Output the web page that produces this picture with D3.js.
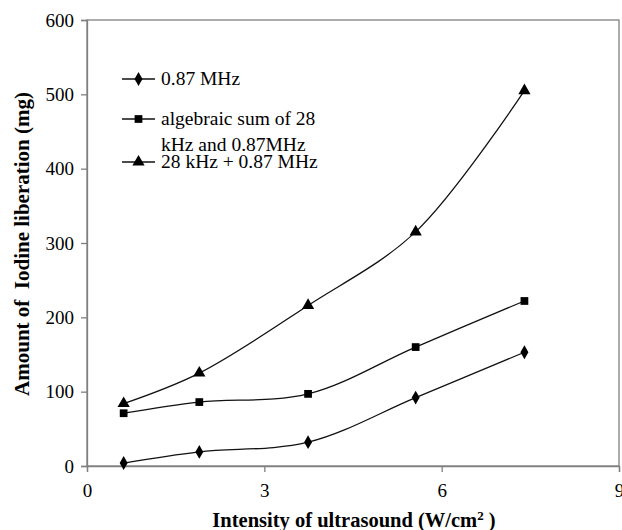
<!DOCTYPE html>
<html>
<head>
<meta charset="utf-8">
<script src="https://cdn.jsdelivr.net/npm/d3@7"></script>
<style>
body { margin: 0; background: #fff; }
</style>
</head>
<body>
<script>
var intensity = [0.62, 1.9, 3.74, 5.56, 7.4];
var mhz = [4, 19, 32, 92, 153];
var algebraicSum = [71, 86, 97, 160, 222];
var combined = [84, 125, 216, 315, 505];
var seriesNames = ["0.87 MHz", "algebraic sum of 28|kHz and 0.87MHz", "28 kHz + 0.87 MHz"];
var symbols = [d3.symbolDiamond, d3.symbolSquare, d3.symbolTriangle];
var xTicks = [0, 3, 6, 9];
var yTicks = [0, 100, 200, 300, 400, 500, 600];

var w = 622, h = 530;
var mLeft = 87, mRight = 619, mTop = 20, mBottom = 466;
var axisColor = "#808080";
var serif = "'Liberation Serif', 'Times New Roman', serif";

var svg = d3.select("body").append("svg")
	.attr("width", w)
	.attr("height", h);

var xScale = d3.scaleLinear().domain([0, 9]).range([mLeft, mRight]);
var yScale = d3.scaleLinear().domain([0, 600]).range([mBottom, mTop]);

// frame
svg.append("rect")
	.attr("x", mLeft).attr("y", mTop)
	.attr("width", mRight - mLeft).attr("height", mBottom - mTop)
	.attr("fill", "none")
	.attr("stroke", axisColor)
	.attr("stroke-width", 1.3);

var xAxis = svg.append("g")
	.attr("transform", "translate(0," + mBottom + ")")
	.call(d3.axisBottom(xScale).tickValues(xTicks).tickSize(6).tickPadding(12));

var yAxis = svg.append("g")
	.attr("transform", "translate(" + mLeft + ",0)")
	.call(d3.axisLeft(yScale).tickValues(yTicks).tickSize(6).tickPadding(7));

svg.selectAll(".domain").attr("stroke", axisColor).attr("stroke-width", 1.3);
svg.selectAll(".tick line").attr("stroke", axisColor).attr("stroke-width", 1.3);
svg.selectAll(".tick text")
	.style("font-family", serif)
	.style("font-size", "19px")
	.attr("fill", "#000");

var data = [mhz, algebraicSum, combined];

var line = d3.line()
	.x(function(d, i) { return xScale(intensity[i]); })
	.y(function(d) { return yScale(d); })
	.curve(d3.curveCatmullRom.alpha(0.5));

var markerSizes = [55, 60, 65];

data.forEach(function(vals, s) {
	svg.append("path")
		.attr("d", line(vals))
		.attr("fill", "none")
		.attr("stroke", "#111")
		.attr("stroke-width", 1.3);

	svg.selectAll(".pt" + s)
		.data(vals)
		.enter()
		.append("path")
		.attr("transform", function(d, i) { return "translate(" + xScale(intensity[i]) + "," + yScale(d) + ")"; })
		.attr("d", d3.symbol().type(symbols[s]).size(markerSizes[s]))
		.attr("fill", "#000");
});

// legend
var legendRows = [79, 119, 162];
legendRows.forEach(function(y, s) {
	var g = svg.append("g").attr("transform", "translate(0," + y + ")");
	g.append("line")
		.attr("x1", 122).attr("x2", 155)
		.attr("y1", 0).attr("y2", 0)
		.attr("stroke", "#111").attr("stroke-width", 1.3);
	g.append("path")
		.attr("transform", "translate(138.5,0)")
		.attr("d", d3.symbol().type(symbols[s]).size(markerSizes[s]))
		.attr("fill", "#000");
	var parts = seriesNames[s].split("|");
	parts.forEach(function(p, k) {
		g.append("text")
			.attr("x", 161)
			.attr("y", 6 + k * 26)
			.style("font-family", serif)
			.style("font-size", "19.5px")
			.attr("fill", "#000")
			.text(p);
	});
});

// axis titles
svg.append("text")
	.attr("x", 354)
	.attr("y", 527)
	.attr("text-anchor", "middle")
	.style("font-family", serif)
	.style("font-size", "20.5px")
	.style("font-weight", "bold")
	.html("Intensity of ultrasound (W/cm<tspan dy='-7' font-size='13px'>2</tspan><tspan dy='7'> )</tspan>");

svg.append("text")
	.attr("transform", "translate(29,244) rotate(-90)")
	.attr("text-anchor", "middle")
	.style("font-family", serif)
	.style("font-size", "21px")
	.style("font-weight", "bold")
	.style("white-space", "pre")
	.text("Amount of  Iodine liberation (mg)");
</script>
</body>
</html>
